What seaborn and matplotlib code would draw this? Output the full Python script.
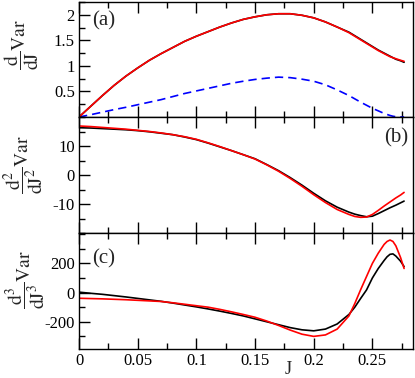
import numpy as np
import pandas as pd
import matplotlib
matplotlib.use("Agg")
import matplotlib.pyplot as plt
from matplotlib.ticker import MultipleLocator, FixedLocator
import seaborn as sns

# ---------------- data ----------------
J = [0.00, 0.01, 0.02, 0.03, 0.04, 0.05, 0.06, 0.07, 0.08, 0.09,
     0.10, 0.11, 0.12, 0.13, 0.14, 0.15, 0.16, 0.17, 0.18, 0.19,
     0.20, 0.21, 0.22, 0.23, 0.235, 0.24, 0.245, 0.25, 0.255, 0.26,
     0.2625, 0.265, 0.2675, 0.27, 0.274, 0.277]

# panel (a): first derivative
a_black = [0, 0.21, 0.42, 0.62, 0.80, 0.96, 1.11, 1.24, 1.36, 1.48,
           1.58, 1.67, 1.76, 1.84, 1.91, 1.96, 2.00, 2.02, 2.02, 1.99,
           1.94, 1.86, 1.76, 1.66, 1.59, 1.52, 1.45, 1.38, 1.31, 1.25,
           1.22, 1.19, 1.16, 1.13, 1.10, 1.07]
a_red = [0, 0.21, 0.42, 0.62, 0.80, 0.96, 1.11, 1.24, 1.36, 1.48,
         1.58, 1.67, 1.76, 1.84, 1.91, 1.96, 2.00, 2.02, 2.02, 1.99,
         1.94, 1.86, 1.76, 1.65, 1.58, 1.51, 1.44, 1.37, 1.30, 1.24,
         1.21, 1.18, 1.16, 1.14, 1.11, 1.09]
a_blue = [0, 0.045, 0.095, 0.145, 0.19, 0.24, 0.29, 0.34, 0.40, 0.46,
          0.51, 0.56, 0.61, 0.66, 0.70, 0.735, 0.76, 0.78, 0.77, 0.74,
          0.70, 0.63, 0.53, 0.42, 0.355, 0.29, 0.23, 0.17, 0.12, 0.07,
          0.05, 0.03, 0.015, 0.005, 0.0, 0.0]

# panel (b): second derivative
b_black = [16.3, 16.2, 16.0, 15.8, 15.6, 15.3, 14.9, 14.4, 13.9, 13.1,
           12.2, 11.0, 9.7, 8.4, 7.0, 5.6, 3.6, 1.5, -0.9, -3.5,
           -6.3, -8.9, -11.1, -12.8, -13.5, -14.0, -14.4, -14.2, -13.3, -12.3,
           -11.8, -11.3, -10.85, -10.4, -9.6, -9.0]
b_red = [16.9, 16.7, 16.4, 16.1, 15.8, 15.4, 15.0, 14.5, 13.9, 13.2,
         12.3, 11.1, 9.8, 8.4, 7.0, 5.5, 3.5, 1.3, -1.2, -3.9,
         -6.8, -9.5, -11.9, -13.6, -14.3, -14.6, -14.5, -13.6, -12.2, -10.7,
         -10.0, -9.3, -8.6, -7.9, -6.9, -6.0]

# panel (c): third derivative
c_black = [3, -5, -12, -21, -30, -40, -50, -60, -72, -85,
           -98, -112, -127, -143, -160, -180, -200, -220, -240, -255,
           -262, -250, -215, -150, -100, -40, 18, 100, 165, 220,
           245, 262, 265, 250, 215, 178]
c_red = [-39, -41, -43, -46, -49, -53, -57, -61, -70, -80,
         -90, -100, -115, -132, -150, -169, -195, -225, -257, -285,
         -300, -290, -250, -160, -75, 20, 110, 200, 270, 330,
         350, 360, 350, 320, 240, 165]

x_ticks = [0, 0.05, 0.1, 0.15, 0.2, 0.25]
x_ticklabels = ["0", "0.05", "0.1", "0.15", "0.2", "0.25"]
a_ticks = [0.5, 1, 1.5, 2]
a_ticklabels = ["0.5", "1", "1.5", "2"]
b_ticks = [-10, 0, 10]
b_ticklabels = ["-10", "0", "10"]
c_ticks = [-200, 0, 200]
c_ticklabels = ["-200", "0", "200"]
panel_labels = ["(a)", "(b)", "(c)"]
ylabels = [r"$\dfrac{\mathrm{d}}{\mathrm{dJ}}\mathrm{Var}$",
           r"$\dfrac{\mathrm{d}^2}{\mathrm{dJ}^2}\mathrm{Var}$",
           r"$\dfrac{\mathrm{d}^3}{\mathrm{dJ}^3}\mathrm{Var}$"]
xlabel = "J"

# ---------------- style ----------------
sns.set_style("ticks")
plt.rcParams["font.family"] = ["Liberation Serif", "DejaVu Serif"]
plt.rcParams["mathtext.fontset"] = "stix"
plt.rcParams["axes.unicode_minus"] = False

W, H = 415, 378
fig = plt.figure(figsize=(W / 100, H / 100), dpi=100)

left = 79 / W
right = 413 / W
edges = [2, 117, 233, 348.5]
axes = []
for i in range(3):
    top = 1 - edges[i] / H
    bot = 1 - edges[i + 1] / H
    axes.append(fig.add_axes([left, bot, right - left, top - bot]))

df = pd.DataFrame({"J": J, "a_black": a_black, "a_red": a_red, "a_blue": a_blue,
                   "b_black": b_black, "b_red": b_red,
                   "c_black": c_black, "c_red": c_red})

lw = 1.2
ax = axes[0]
sns.lineplot(data=df, x="J", y="a_blue", ax=ax, color="#0000ff", lw=lw, linestyle=(0, (5, 3)))
sns.lineplot(data=df, x="J", y="a_black", ax=ax, color="black", lw=lw)
sns.lineplot(data=df, x="J", y="a_red", ax=ax, color="#ff0000", lw=lw)
ax.set_ylim(0, 2.25)
ax.yaxis.set_major_locator(FixedLocator(a_ticks))
ax.set_yticklabels(a_ticklabels)
ax.yaxis.set_minor_locator(MultipleLocator(0.25))

ax = axes[1]
sns.lineplot(data=df, x="J", y="b_black", ax=ax, color="black", lw=lw)
sns.lineplot(data=df, x="J", y="b_red", ax=ax, color="#ff0000", lw=lw)
ax.set_ylim(-20, 20)
ax.yaxis.set_major_locator(FixedLocator(b_ticks))
ax.set_yticklabels(b_ticklabels)
ax.yaxis.set_minor_locator(MultipleLocator(5))

ax = axes[2]
sns.lineplot(data=df, x="J", y="c_black", ax=ax, color="black", lw=lw)
sns.lineplot(data=df, x="J", y="c_red", ax=ax, color="#ff0000", lw=lw)
ax.set_ylim(-383, 408)
ax.yaxis.set_major_locator(FixedLocator(c_ticks))
ax.set_yticklabels(c_ticklabels)
ax.yaxis.set_minor_locator(MultipleLocator(100))

label_pos = [(-0.17, 0.63), (-0.165, 0.59), (-0.16, 0.60)]
for i, ax in enumerate(axes):
    ax.set_xlim(0, 0.2846)
    ax.xaxis.set_major_locator(FixedLocator(x_ticks))
    ax.xaxis.set_minor_locator(MultipleLocator(0.025))
    ax.tick_params(axis="both", which="both", direction="in", top=True, right=False,
                   labelsize=12, colors="black", pad=3)
    ax.tick_params(which="major", length=8, width=1)
    ax.tick_params(which="minor", length=4, width=1)
    for s in ax.spines.values():
        s.set_visible(True)
        s.set_linewidth(1.0)
        s.set_color("black")
    ax.set_ylabel(ylabels[i], fontsize=14, va="center")
    ax.yaxis.set_label_coords(*label_pos[i])
    if i < 2:
        ax.set_xlabel("")
        ax.tick_params(axis="x", labelbottom=False)
    else:
        ax.set_xticklabels(x_ticklabels)
        ax.set_xlabel("")

axes[0].text(0.04, 0.84, panel_labels[0], transform=axes[0].transAxes, fontsize=15, ha="left", va="center")
axes[1].text(0.985, 0.82, panel_labels[1], transform=axes[1].transAxes, fontsize=15, ha="right", va="center")
axes[2].text(0.04, 0.78, panel_labels[2], transform=axes[2].transAxes, fontsize=15, ha="left", va="center")

fig.text(288 / W, 1 - 369 / H, xlabel, fontsize=13, ha="center", va="center")

fig.savefig("out.png", dpi=100)
